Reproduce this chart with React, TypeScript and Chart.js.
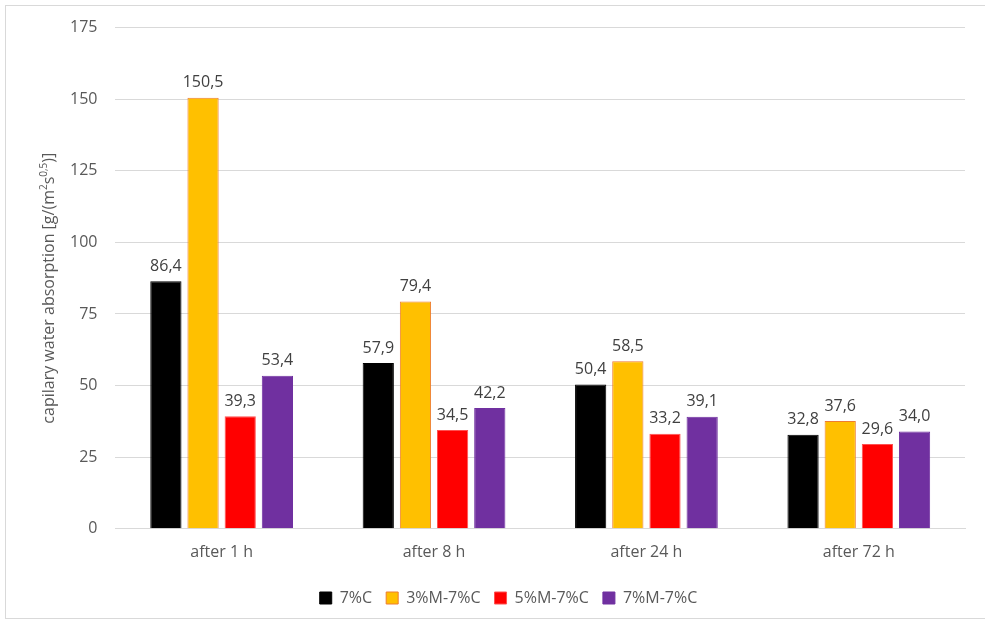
import React, { useEffect, useRef } from "react";
import { Chart, registerables } from "chart.js";

Chart.register(...registerables);

const categories = ["after 1 h", "after 8 h", "after 24 h", "after 72 h"];
const seriesNames = ["7%C", "3%M-7%C", "5%M-7%C", "7%M-7%C"];
const s7C = [86.4, 57.9, 50.4, 32.8];
const s3M = [150.5, 79.4, 58.5, 37.6];
const s5M = [39.3, 34.5, 33.2, 29.6];
const s7M = [53.4, 42.2, 39.1, 34.0];
const fills = ["#000000", "#FFC000", "#FF0000", "#7030A0"];
const borders = ["#000000", "#ED7D31", "#FF5050", "#7030A0"];
const yTicks = [0, 25, 50, 75, 100, 125, 150, 175];

const FONT = "'Open Sans', 'DejaVu Sans', sans-serif";
const FS = 16;

const labelPlugin = {
  id: "valueLabels",
  afterDatasetsDraw(chart: any) {
    const ctx = chart.ctx;
    ctx.save();
    ctx.font = `${FS}px ${FONT}`;
    ctx.fillStyle = "#404040";
    ctx.textAlign = "center";
    ctx.textBaseline = "bottom";
    chart.data.datasets.forEach((ds: any, i: number) => {
      const meta = chart.getDatasetMeta(i);
      meta.data.forEach((bar: any, j: number) => {
        const v = ds.data[j] as number;
        ctx.fillText(v.toFixed(1).replace(".", ","), bar.x, bar.y - 7);
      });
    });
    ctx.restore();
  },
};

const titlePlugin = {
  id: "yTitle",
  afterDraw(chart: any) {
    const ctx = chart.ctx;
    const area = chart.chartArea;
    ctx.save();
    ctx.translate(48, (area.top + area.bottom) / 2 + 10);
    ctx.rotate(-Math.PI / 2);
    ctx.fillStyle = "#595959";
    ctx.textBaseline = "alphabetic";
    const parts: [string, number, number][] = [
      ["capilary water absorption [g/(m", FS, 0],
      ["2", 10, -7],
      ["s", FS, 0],
      ["0,5", 10, -7],
      [")]", FS, 0],
    ];
    let total = 0;
    parts.forEach(([t, s]) => {
      ctx.font = `${s}px ${FONT}`;
      total += ctx.measureText(t).width;
    });
    let x = -total / 2;
    parts.forEach(([t, s, dy]) => {
      ctx.font = `${s}px ${FONT}`;
      ctx.textAlign = "left";
      ctx.fillText(t, x, 6 + dy);
      x += ctx.measureText(t).width;
    });
    ctx.restore();
  },
};

export default function App() {
  const ref = useRef<HTMLCanvasElement>(null);
  useEffect(() => {
    if (!ref.current) return;
    const data = [s7C, s3M, s5M, s7M];
    const chart = new Chart(ref.current, {
      type: "bar",
      data: {
        labels: categories,
        datasets: data.map((d, i) => ({
          label: seriesNames[i],
          data: d,
          backgroundColor: fills[i],
          borderColor: borders[i],
          borderWidth: 1,
          barPercentage: 0.84,
          categoryPercentage: 0.7,
        })),
      },
      options: {
        animation: false,
        responsive: false,
        maintainAspectRatio: false,
        layout: { padding: { left: 52, right: 20, top: 21, bottom: 7 } },
        scales: {
          x: {
            grid: { display: false, drawTicks: false },
            border: { color: "#d9d9d9" },
            ticks: { color: "#595959", font: { family: FONT, size: FS }, padding: 14 },
          },
          y: {
            min: 0,
            max: 175,
            afterBuildTicks: (axis: any) => {
              axis.ticks = yTicks.map((v) => ({ value: v }));
            },
            grid: { color: "#d9d9d9", drawTicks: false },
            border: { display: false },
            ticks: { color: "#595959", font: { family: FONT, size: FS }, padding: 18 },
          },
        },
        plugins: {
          legend: {
            position: "bottom",
            labels: {
              boxWidth: 12,
              boxHeight: 12,
              color: "#595959",
              font: { family: FONT, size: FS },
              padding: 14,
            },
          },
          tooltip: { enabled: false },
        },
      },
      plugins: [labelPlugin, titlePlugin],
    });
    return () => chart.destroy();
  }, []);
  return (
    <div style={{ position: "absolute", left: 0, top: 0, width: 985, height: 623, background: "#fff" }}>
      <div
        style={{
          position: "absolute",
          left: 5,
          top: 5,
          width: 985,
          height: 614,
          border: "1px solid #d9d9d9",
          boxSizing: "border-box",
        }}
      />
      <canvas ref={ref} width={985} height={623} style={{ position: "absolute", left: 0, top: 0 }} />
    </div>
  );
}
